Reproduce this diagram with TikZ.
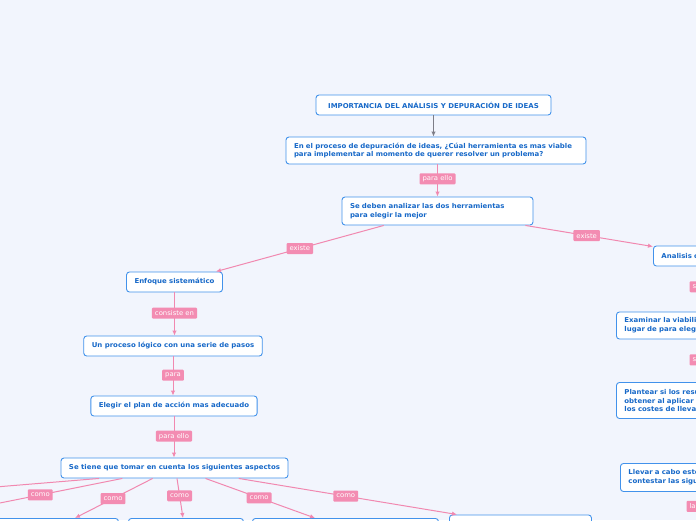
\documentclass[tikz,border=0pt]{standalone}
\usepackage{fontspec}
\setmainfont[FakeStretch=1.04]{DejaVu Sans}
\usetikzlibrary{arrows.meta,calc}
\definecolor{bgc}{RGB}{242,245,253}
\definecolor{boxblue}{RGB}{66,146,235}
\definecolor{txtblue}{RGB}{22,104,200}
\definecolor{pinkline}{RGB}{241,136,176}
\definecolor{pinklab}{RGB}{243,140,178}
\definecolor{grayline}{RGB}{125,125,135}
\tikzset{
  box/.style={draw=boxblue, fill=white, rounded corners=3pt, line width=0.9pt,
    text=txtblue, font=\fontsize{6.7}{8.8}\selectfont\bfseries, inner xsep=8pt, inner ysep=0pt},
  lab/.style={fill=pinklab, text=white, rounded corners=1pt, font=\fontsize{6.6}{7}\selectfont,
    inner xsep=3pt, inner ysep=0pt, minimum height=11pt},
  conn/.style={draw=pinkline, line width=1pt, -{Latex[length=5pt,width=4.5pt]}},
  gconn/.style={draw=grayline, line width=1pt, -{Latex[length=5pt,width=4.5pt]}}
}
\begin{document}
\begin{tikzpicture}[x=1pt,y=-1pt]
\fill[bgc] (0,0) rectangle (696,520);
\useasboundingbox (0,0) rectangle (696,520);

% main nodes
\node[box, minimum width=235pt, minimum height=20pt] (t) at (433.5,105) {IMPORTANCIA DEL ANÁLISIS Y DEPURACIÓN DE IDEAS};
\node[box, text width=284pt, minimum height=27pt, align=left, inner xsep=8pt] (q) at (436,150.5)
  {En el proceso de depuración de ideas, ¿Cúal herramienta es mas viable\\para implementar al momento de querer resolver un problema?};
\node[box, text width=175pt, minimum height=28pt, align=left, inner xsep=8pt] (s) at (437.5,211)
  {Se deben analizar las dos herramientas\\para elegir la mejor};
\node[box, minimum width=95pt, minimum height=20pt] (enf) at (174.5,282) {Enfoque sistemático};
\node[box, minimum width=178pt, minimum height=20pt] (proc) at (173,346) {Un proceso lógico con una serie de pasos};
\node[box, minimum width=166pt, minimum height=20pt] (eleg) at (174,406) {Elegir el plan de acción mas adecuado};
\node[box, minimum width=225pt, minimum height=20pt] (tom) at (174.5,468) {Se tiene que tomar en cuenta los siguientes aspectos};

% right column (cut by the page edge)
\node[box, anchor=west, minimum height=20pt, text width=150pt, align=left] (ana) at (653,256) {Analisis costo-beneficio};
\node[box, anchor=west, minimum height=27pt, text width=150pt, align=left] (exa) at (616,325.5)
  {Examinar la viabilidad\\lugar de para elegir};
\node[box, anchor=west, minimum height=36pt, text width=150pt, align=left] (pla) at (616,400.5)
  {Plantear si los resultados\\obtener al aplicar la\\los costes de llevarlo};
\node[box, anchor=west, minimum height=28pt, text width=150pt, align=left] (lle) at (620,477.5)
  {Llevar a cabo este\\contestar las siguientes};

% bottom boxes (cut by the page edge)
\node[box, anchor=north west, minimum width=128pt, minimum height=30pt] (b1) at (-10,518) {};
\node[box, anchor=north west, minimum width=115pt, minimum height=30pt] (b2) at (128,518) {};
\node[box, anchor=north west, minimum width=186pt, minimum height=30pt] (b3) at (252,518) {};
\node[box, anchor=north west, minimum width=142pt, minimum height=30pt] (b4) at (449,514.5) {};
\coordinate (offA) at (-150,499);
\coordinate (offB) at (-60,515);

% connectors
\draw[gconn] (t.south) -- (q.north -| t.south);
\draw[conn] (q.south -| s.north) -- node[lab, pos=0.45]{para ello} (s.north);
\draw[conn] ($(s.south west)!0.22!(s.south east)$) -- node[lab, pos=0.5]{existe} ($(enf.north east)+(-7,0)$);
\draw[conn] ($(s.south east)+(-8,0)$) -- node[lab, pos=0.48]{existe} ($(ana.north west)+(0,1)$);
\draw[conn] (enf.south) -- node[lab, pos=0.48]{consiste en} (enf.south |- proc.north);
\draw[conn] (proc.south) -- node[lab, pos=0.48]{para} (proc.south |- eleg.north);
\draw[conn] (eleg.south) -- node[lab, pos=0.48]{para ello} (eleg.south |- tom.north);

\draw[conn] ($(tom.south west)!0.169!(tom.south east)$) -- (offA);
\draw[conn] ($(tom.south west)!0.271!(tom.south east)$) -- node[lab, pos=0.45]{como} (offB);
\draw[conn] ($(tom.south west)!0.404!(tom.south east)$) -- node[lab, pos=0.51]{como} ($(b1.north west)+(85,0)$);
\draw[conn] ($(tom.south west)!0.511!(tom.south east)$) -- node[lab, pos=0.44]{como} ($(b2.north west)+(55,0)$);
\draw[conn] ($(tom.south west)!0.636!(tom.south east)$) -- node[lab, pos=0.49]{como} ($(b3.north west)+(63,0)$);
\draw[conn] ($(tom.south west)!0.782!(tom.south east)$) -- node[lab, pos=0.49]{como} ($(b4.north west)+(8,0)$);

% right column connectors (mostly beyond the page edge)
\draw[conn] ($(ana.south west)+(55,0)$) -- node[lab, pos=0.45, anchor=west, xshift=-19pt, text width=20pt, align=left]{se} ($(exa.north west)+(92,0)$);
\draw[conn] ($(exa.south west)+(92,0)$) -- node[lab, pos=0.48, anchor=west, xshift=-19pt, text width=20pt, align=left]{se} ($(pla.north west)+(92,0)$);
\draw[conn] ($(lle.south west)+(88,0)$) -- node[lab, pos=0.36, anchor=west, xshift=-22pt, text width=20pt, align=left]{la} ($(lle.south west)+(88,40)$);
\end{tikzpicture}
\end{document}
